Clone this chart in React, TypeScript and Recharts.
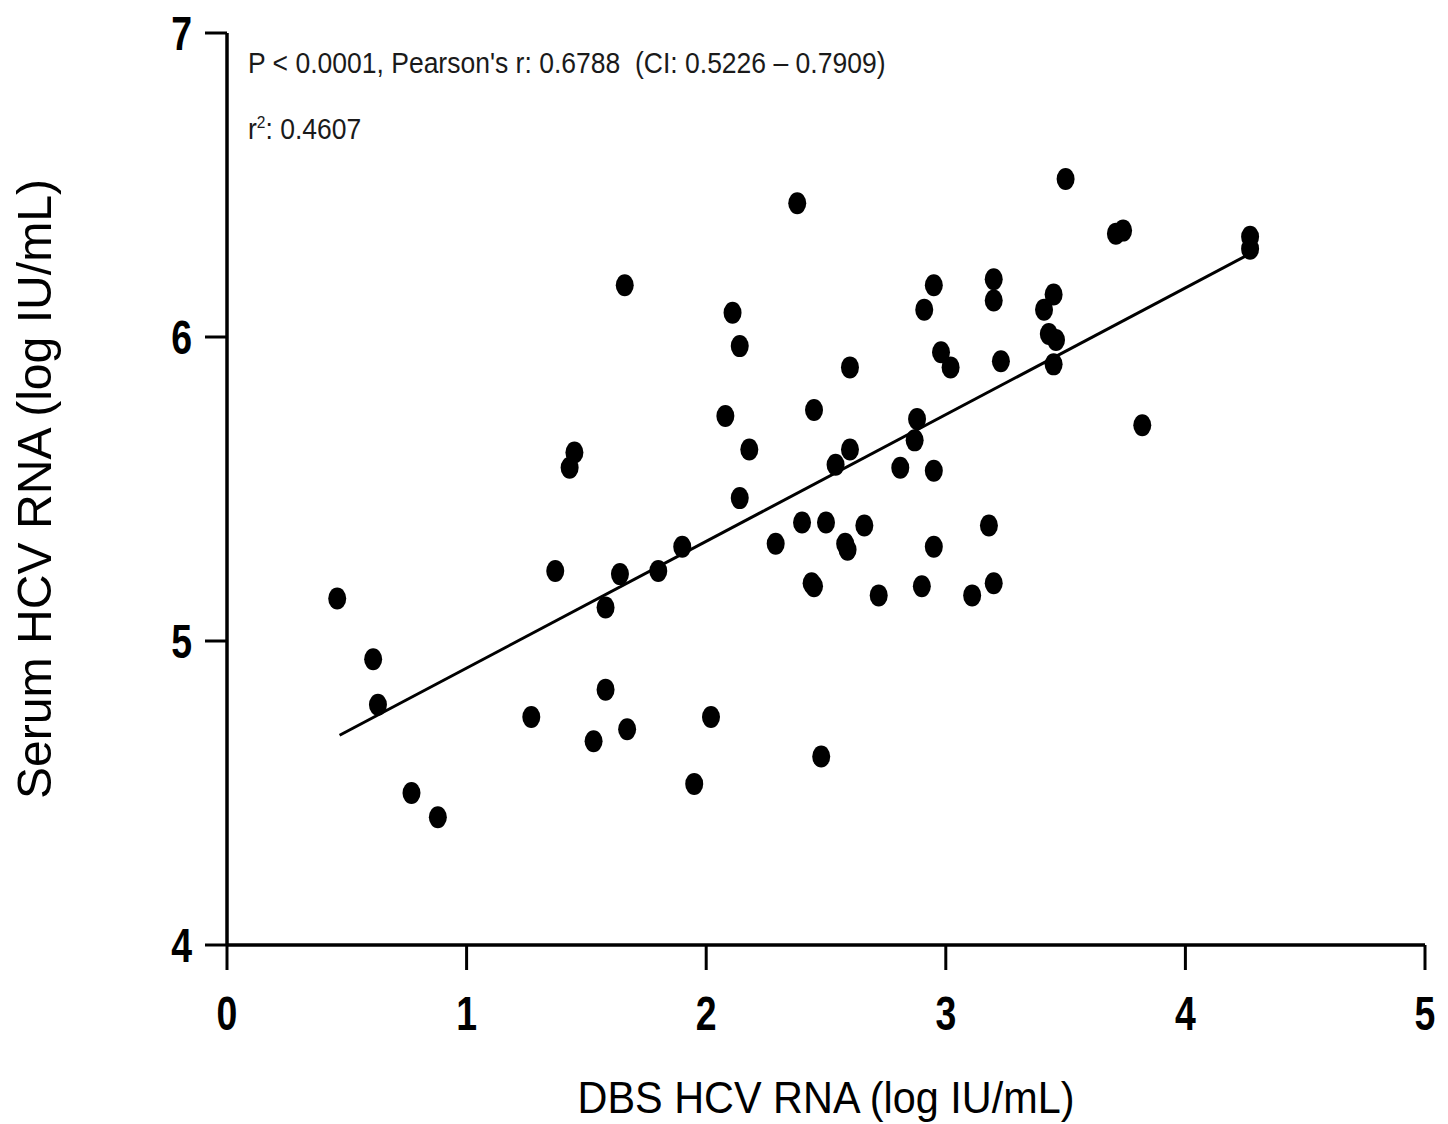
import { ScatterChart, Scatter, XAxis, YAxis, ReferenceLine, Label } from "recharts";

// DBS (x) vs serum (y) HCV RNA, log IU/mL
const dbs = [
  0.46, 0.61, 0.63, 0.77, 0.88, 1.27, 1.37, 1.43, 1.45, 1.53, 1.58, 1.58, 1.64, 1.66, 1.67,
  1.8, 1.9, 1.95, 2.02, 2.08, 2.11, 2.14, 2.14, 2.18, 2.29, 2.38, 2.4, 2.45, 2.44, 2.45,
  2.48, 2.5, 2.54, 2.58, 2.59, 2.6, 2.6, 2.66, 2.72, 2.81, 2.87, 2.88, 2.9, 2.91, 2.95,
  2.95, 2.95, 2.98, 3.02, 3.11, 3.18, 3.2, 3.2, 3.2, 3.23, 3.41, 3.43, 3.45, 3.46, 3.45,
  3.5, 3.71, 3.74, 3.82, 4.27, 4.27,
];
const serum = [
  5.14, 4.94, 4.79, 4.5, 4.42, 4.75, 5.23, 5.57, 5.62, 4.67, 5.11, 4.84, 5.22, 6.17, 4.71,
  5.23, 5.31, 4.53, 4.75, 5.74, 6.08, 5.97, 5.47, 5.63, 5.32, 6.44, 5.39, 5.76, 5.19, 5.18,
  4.62, 5.39, 5.58, 5.32, 5.3, 5.63, 5.9, 5.38, 5.15, 5.57, 5.66, 5.73, 5.18, 6.09, 5.56,
  5.31, 6.17, 5.95, 5.9, 5.15, 5.38, 6.19, 6.12, 5.19, 5.92, 6.09, 6.01, 6.14, 5.99, 5.91,
  6.52, 6.34, 6.35, 5.71, 6.33, 6.29,
];

// ends of the fitted regression line
const fitX = [0.47, 4.26];
const fitY = [4.69, 6.27];

const xTicks = [0, 1, 2, 3, 4, 5];
const yTicks = [4, 5, 6, 7];

const points = dbs.map((x, i) => ({ x, y: serum[i] }));

// no narrow font installed, so text is squeezed horizontally instead
const font = "'Liberation Sans', Arial, sans-serif";

function Dot(props: any) {
  return <ellipse cx={props.cx} cy={props.cy} rx={9} ry={11} fill="#000" />;
}

function XTick({ x, y, payload }: any) {
  return (
    <g transform={`translate(${x},${y + 43}) scale(0.78,1)`}>
      <text x={0} y={0} textAnchor="middle" dominantBaseline="central"
        fontFamily={font} fontWeight="bold" fontSize={48} fill="#000">
        {payload.value}
      </text>
    </g>
  );
}

function YTick({ x, y, payload }: any) {
  return (
    <g transform={`translate(${x},${y}) scale(0.78,1)`}>
      <text x={0} y={0} textAnchor="end" dominantBaseline="central"
        fontFamily={font} fontWeight="bold" fontSize={48} fill="#000">
        {payload.value}
      </text>
    </g>
  );
}

const note: React.CSSProperties = {
  position: "absolute",
  left: 240,
  fontFamily: font,
  fontSize: 29,
  lineHeight: 1,
  whiteSpace: "pre",
  color: "#1a1a1a",
  transform: "scaleX(0.914)",
  transformOrigin: "left top",
};

export default function App() {
  return (
    <div style={{ position: "relative", width: 1432, height: 1124, marginTop: -8, background: "#fff" }}>
      <ScatterChart width={1432} height={1124} margin={{ top: 33, right: 15, bottom: 0, left: 0 }}>
        <XAxis
          type="number"
          dataKey="x"
          domain={[0, 5]}
          ticks={xTicks}
          allowDataOverflow
          height={179}
          tickSize={25}
          tickMargin={0}
          tick={<XTick />}
          axisLine={{ stroke: "#000", strokeWidth: 3.5 }}
          tickLine={{ stroke: "#000", strokeWidth: 3 }}
        >
          <Label
            content={({ viewBox }: any) => (
              <text x={viewBox.x + viewBox.width / 2} y={viewBox.y + 152} textAnchor="middle"
                dominantBaseline="central" fontFamily={font} fontSize={45} fill="#000"
                textLength={497} lengthAdjust="spacingAndGlyphs">
                DBS HCV RNA (log IU/mL)
              </text>
            )}
          />
        </XAxis>
        <YAxis
          type="number"
          dataKey="y"
          domain={[4, 7]}
          ticks={yTicks}
          allowDataOverflow
          width={219}
          tickSize={22}
          tickMargin={13}
          tick={<YTick />}
          axisLine={{ stroke: "#000", strokeWidth: 3.5 }}
          tickLine={{ stroke: "#000", strokeWidth: 3 }}
        >
          <Label
            content={({ viewBox }: any) => {
              const cx = viewBox.x + 26;
              const cy = viewBox.y + viewBox.height / 2;
              return (
                <text x={cx} y={cy} textAnchor="middle" dominantBaseline="central"
                  transform={`rotate(-90 ${cx} ${cy})`}
                  fontFamily={font} fontSize={48} fill="#000"
                  textLength={620} lengthAdjust="spacingAndGlyphs">
                  Serum HCV RNA (log IU/mL)
                </text>
              );
            }}
          />
        </YAxis>
        <ReferenceLine
          segment={[
            { x: fitX[0], y: fitY[0] },
            { x: fitX[1], y: fitY[1] },
          ]}
          stroke="#000"
          strokeWidth={3}
        />
        <Scatter data={points} fill="#000" shape={<Dot />} isAnimationActive={false} />
      </ScatterChart>
      <div style={{ ...note, top: 49 }}>
        {"P < 0.0001, Pearson's r: 0.6788  (CI: 0.5226 – 0.7909)"}
      </div>
      <div style={{ ...note, top: 114 }}>
        r<sup style={{ fontSize: 17 }}>2</sup>: 0.4607
      </div>
    </div>
  );
}
